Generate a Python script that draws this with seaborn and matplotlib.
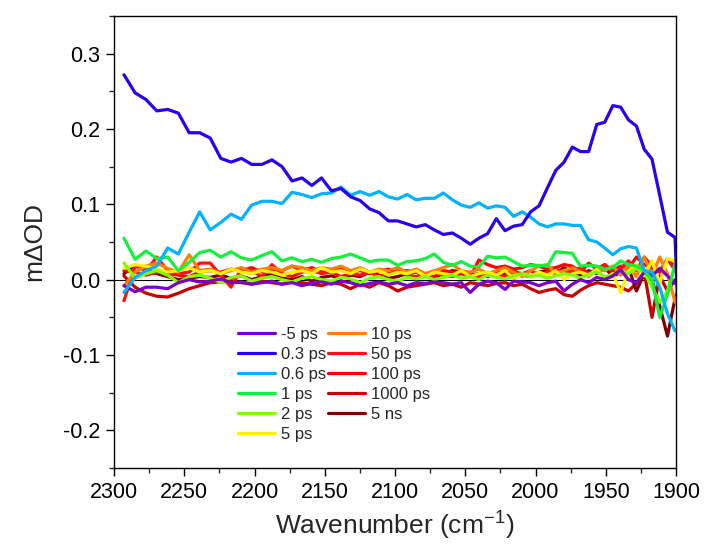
import numpy as np
import pandas as pd
import matplotlib
matplotlib.use("Agg")
import matplotlib.pyplot as plt
import seaborn as sns

wavenumber = [2292.9, 2285.0, 2277.2, 2269.5, 2261.8, 2254.2, 2246.5, 2239.0, 2231.5, 2224.0,
              2216.7, 2209.3, 2202.0, 2194.7, 2187.6, 2180.4, 2173.3, 2166.2, 2159.2, 2152.3,
              2145.3, 2138.5, 2131.6, 2124.8, 2118.1, 2111.4, 2104.7, 2098.1, 2091.5, 2084.9,
              2078.4, 2072.0, 2065.6, 2059.2, 2052.8, 2046.5, 2040.3, 2034.1, 2027.9, 2021.7,
              2015.6, 2009.5, 2003.5, 1997.5, 1991.5, 1985.6, 1979.7, 1973.8, 1968.0, 1962.2,
              1956.4, 1950.7, 1945.0, 1939.4, 1933.8, 1928.2, 1922.6, 1917.1, 1911.6, 1906.1,
              1900.7, 1895.2]

labels = ["-5 ps", "0.3 ps", "0.6 ps", "1 ps", "2 ps", "5 ps",
          "10 ps", "50 ps", "100 ps", "1000 ps", "5 ns"]
colors = ["#7A00CC", "#2A00F5", "#00B2FF", "#14F03C", "#80FF00", "#FFF200",
          "#FF8000", "#FF1010", "#FF0000", "#C80000", "#800000"]

s_m5ps = [-0.008, -0.016, -0.010, -0.010, -0.012, -0.004, 0.000, -0.003, -0.002, 0.001,
          -0.004, -0.003, -0.006, -0.004, -0.002, -0.006, -0.004, -0.008, -0.005, -0.003,
          -0.006, -0.002, -0.004, -0.008, -0.005, -0.003, -0.006, -0.004, -0.008, -0.004,
          -0.005, -0.003, -0.004, -0.006, -0.004, -0.017, -0.006, -0.002, -0.004, -0.013,
          -0.002, -0.003, -0.004, -0.008, -0.004, -0.002, -0.015, -0.006, 0.000, -0.004,
          0.003, 0.000, 0.005, 0.013, 0.000, -0.004, 0.010, 0.005, 0.015, 0.005,
          -0.005, 0.000]
s_03ps = [0.272, 0.248, 0.239, 0.224, 0.226, 0.221, 0.195, 0.195, 0.188, 0.161,
          0.156, 0.161, 0.153, 0.153, 0.159, 0.150, 0.131, 0.135, 0.125, 0.135,
          0.118, 0.121, 0.110, 0.105, 0.094, 0.089, 0.078, 0.078, 0.074, 0.070,
          0.073, 0.066, 0.060, 0.062, 0.055, 0.047, 0.055, 0.061, 0.081, 0.065,
          0.071, 0.073, 0.090, 0.098, 0.122, 0.145, 0.156, 0.176, 0.170, 0.170,
          0.206, 0.209, 0.231, 0.229, 0.212, 0.204, 0.173, 0.160, 0.112, 0.063,
          0.056, -0.200]
s_06ps = [-0.017, 0.003, 0.012, 0.018, 0.042, 0.034, 0.063, 0.090, 0.066, 0.076,
          0.087, 0.080, 0.099, 0.104, 0.104, 0.101, 0.116, 0.113, 0.109, 0.114,
          0.115, 0.123, 0.112, 0.117, 0.112, 0.117, 0.110, 0.107, 0.113, 0.106,
          0.108, 0.108, 0.115, 0.106, 0.099, 0.096, 0.102, 0.095, 0.098, 0.096,
          0.084, 0.090, 0.083, 0.074, 0.070, 0.074, 0.074, 0.072, 0.072, 0.053,
          0.050, 0.042, 0.033, 0.041, 0.044, 0.042, 0.012, 0.010, -0.010, -0.045,
          -0.068, -0.060]
s_1ps = [0.055, 0.027, 0.038, 0.028, 0.030, 0.012, 0.023, 0.036, 0.039, 0.030,
         0.037, 0.029, 0.026, 0.032, 0.037, 0.025, 0.029, 0.024, 0.027, 0.023,
         0.028, 0.030, 0.034, 0.029, 0.024, 0.026, 0.026, 0.019, 0.024, 0.025,
         0.028, 0.034, 0.023, 0.019, 0.024, 0.018, 0.017, 0.031, 0.029, 0.030,
         0.024, 0.018, 0.019, 0.019, 0.018, 0.037, 0.036, 0.035, 0.018, 0.019,
         0.018, 0.014, 0.016, 0.025, 0.020, 0.018, 0.012, 0.000, -0.050, -0.020,
         0.020, 0.000]
s_2ps = [0.022, 0.002, 0.008, 0.012, 0.006, -0.004, 0.004, 0.006, 0.002, -0.004,
         0.003, 0.005, -0.002, 0.002, 0.004, 0.000, -0.003, 0.002, 0.004, 0.000,
         -0.002, 0.003, 0.001, -0.004, 0.002, 0.004, 0.000, -0.002, 0.003, 0.001,
         0.004, 0.000, 0.003, 0.006, 0.002, 0.004, 0.000, 0.006, 0.003, 0.001,
         0.005, 0.008, 0.004, 0.006, 0.002, 0.005, 0.008, 0.006, 0.002, 0.007,
         0.010, 0.004, 0.006, 0.012, 0.008, 0.015, 0.010, -0.010, -0.030, -0.015,
         0.020, 0.000]
s_5ps = [0.015, 0.020, 0.018, 0.014, 0.010, 0.012, 0.016, 0.010, 0.012, 0.008,
         0.014, 0.010, 0.008, 0.012, 0.010, 0.006, 0.010, 0.012, 0.008, 0.016,
         0.010, 0.012, 0.008, 0.014, 0.010, 0.012, 0.006, 0.010, 0.008, 0.012,
         0.004, 0.010, 0.008, 0.006, 0.012, 0.004, 0.008, 0.010, 0.006, 0.012,
         0.002, 0.008, 0.004, 0.010, 0.006, 0.012, 0.000, 0.008, 0.010, 0.006,
         0.014, 0.002, 0.008, -0.017, 0.012, 0.020, 0.005, 0.025, -0.005, 0.028,
         0.025, 0.010]
s_10ps = [-0.008, 0.010, 0.018, 0.022, 0.015, 0.010, 0.033, 0.012, 0.014, 0.008,
          0.012, 0.016, 0.010, 0.014, 0.016, 0.012, 0.018, 0.016, 0.012, 0.016,
          0.014, 0.018, 0.012, 0.016, 0.010, 0.014, 0.012, 0.016, 0.010, 0.014,
          0.008, 0.012, 0.016, 0.020, 0.012, 0.010, 0.014, 0.008, 0.012, 0.016,
          0.010, 0.004, 0.012, 0.018, 0.020, 0.008, 0.012, 0.016, 0.010, 0.004,
          0.014, 0.012, 0.018, 0.006, 0.020, 0.004, 0.030, 0.005, 0.030, 0.008,
          -0.030, 0.000]
s_50ps = [-0.028, 0.018, 0.012, 0.030, 0.012, 0.008, 0.010, 0.022, 0.022, 0.006,
          -0.010, 0.015, 0.012, 0.004, 0.020, 0.008, 0.004, 0.010, 0.012, 0.008,
          0.010, 0.004, 0.008, 0.006, 0.010, 0.004, 0.008, 0.012, 0.006, 0.004,
          0.008, 0.010, 0.006, 0.004, 0.008, 0.006, 0.004, 0.006, 0.008, 0.004,
          0.010, 0.008, 0.012, 0.006, 0.010, 0.014, 0.010, 0.012, 0.016, 0.008,
          0.014, 0.020, 0.010, 0.015, 0.025, 0.012, 0.030, 0.018, 0.010, 0.028,
          0.012, 0.000]
s_100ps = [0.012, 0.010, 0.006, 0.010, 0.008, 0.006, 0.004, 0.010, 0.012, 0.010,
           0.014, 0.012, 0.016, 0.010, 0.014, 0.012, 0.018, 0.012, 0.016, 0.010,
           0.012, 0.014, 0.010, 0.012, 0.008, 0.012, 0.014, 0.010, 0.012, 0.010,
           0.008, 0.004, 0.012, 0.010, 0.008, 0.004, 0.026, 0.020, 0.016, 0.018,
           0.014, 0.016, 0.020, 0.018, 0.014, 0.016, 0.020, 0.018, 0.010, 0.022,
           0.014, 0.020, 0.012, 0.018, 0.015, 0.030, 0.020, 0.015, 0.010, 0.026,
           0.018, 0.000]
s_1000ps = [0.005, -0.010, -0.018, -0.022, -0.023, -0.018, -0.012, -0.008, -0.004, -0.003,
            -0.002, -0.004, -0.006, -0.002, -0.004, -0.006, -0.002, -0.004, -0.006, -0.008,
            -0.004, -0.006, -0.012, -0.006, -0.010, -0.004, -0.008, -0.015, -0.010, -0.008,
            -0.006, -0.004, -0.008, -0.006, -0.010, -0.004, -0.006, -0.008, -0.005, -0.004,
            -0.008, -0.006, -0.012, -0.017, -0.014, -0.012, -0.020, -0.022, -0.014, -0.008,
            -0.004, -0.006, -0.008, -0.010, -0.015, -0.005, 0.010, -0.050, 0.005, -0.015,
            0.000, 0.000]
s_5ns = [0.008, 0.019, 0.012, 0.008, 0.004, 0.000, 0.002, 0.004, 0.003, 0.006,
         0.002, 0.005, 0.000, 0.004, 0.008, 0.002, 0.000, 0.004, -0.002, 0.003,
         0.005, 0.002, 0.006, 0.004, 0.010, 0.006, 0.002, 0.004, 0.008, 0.010,
         0.006, 0.002, 0.008, 0.012, 0.010, 0.006, 0.008, 0.004, 0.010, 0.008,
         0.012, 0.006, 0.004, 0.010, 0.012, 0.008, 0.016, 0.010, 0.006, 0.012,
         0.008, 0.016, 0.004, 0.010, 0.016, -0.015, 0.008, 0.000, -0.035, -0.075,
         -0.025, 0.000]

series = [s_m5ps, s_03ps, s_06ps, s_1ps, s_2ps, s_5ps,
          s_10ps, s_50ps, s_100ps, s_1000ps, s_5ns]

sns.set_theme(style="ticks")
plt.rcParams["font.family"] = ["Liberation Sans", "DejaVu Sans"]
plt.rcParams["mathtext.default"] = "regular"

fig = plt.figure(figsize=(7.05, 5.57), dpi=100)
ax = fig.add_axes([0.1617, 0.1598, 0.7972, 0.8115])

ax.axhline(0, color="black", lw=0.8, zorder=1)
draw_order = [9, 10, 8, 7, 6, 5, 4, 0, 3, 2, 1]
for k in range(len(labels)):
    df = pd.DataFrame({"wn": wavenumber, "v": series[k]})
    sns.lineplot(data=df, x="wn", y="v", color=colors[k], label=labels[k],
                 linewidth=2.3, sort=False, estimator=None, ax=ax,
                 zorder=2 + draw_order.index(k) * 0.01)

ax.set_xlim(2300, 1900)
ax.set_ylim(-0.25, 0.35)
ax.set_xticks([2300, 2250, 2200, 2150, 2100, 2050, 2000, 1950, 1900])
ax.set_yticks([-0.2, -0.1, 0.0, 0.1, 0.2, 0.3])
ax.set_yticklabels(["-0.2", "-0.1", "0.0", "0.1", "0.2", "0.3"])
ax.set_xticks(np.arange(1900, 2301, 25), minor=True)
ax.set_yticks(np.arange(-0.25, 0.351, 0.05), minor=True)
ax.tick_params(axis="both", which="major", length=6, width=1.0, labelsize=15.5,
               direction="out", colors="black", pad=4)
ax.tick_params(axis="both", which="minor", length=3.5, width=1.0, direction="out")
for sp in ax.spines.values():
    sp.set_visible(True)
    sp.set_color("black")
    sp.set_linewidth(1.0)

ax.set_xlabel("Wavenumber (cm$^{-1}$)", fontsize=19, labelpad=5)
ax.set_ylabel("m\u0394OD", fontsize=19, labelpad=12)

handles, labs = ax.get_legend_handles_labels()
ax.legend(handles, labs, ncol=2, frameon=False, fontsize=12,
          loc="upper left", bbox_to_anchor=(0.2206, 0.313),
          handlelength=2.2, handletextpad=0.4, columnspacing=0.1,
          labelspacing=0.3, borderaxespad=0.0, borderpad=0.0)

fig.savefig("out.png", dpi=100)
